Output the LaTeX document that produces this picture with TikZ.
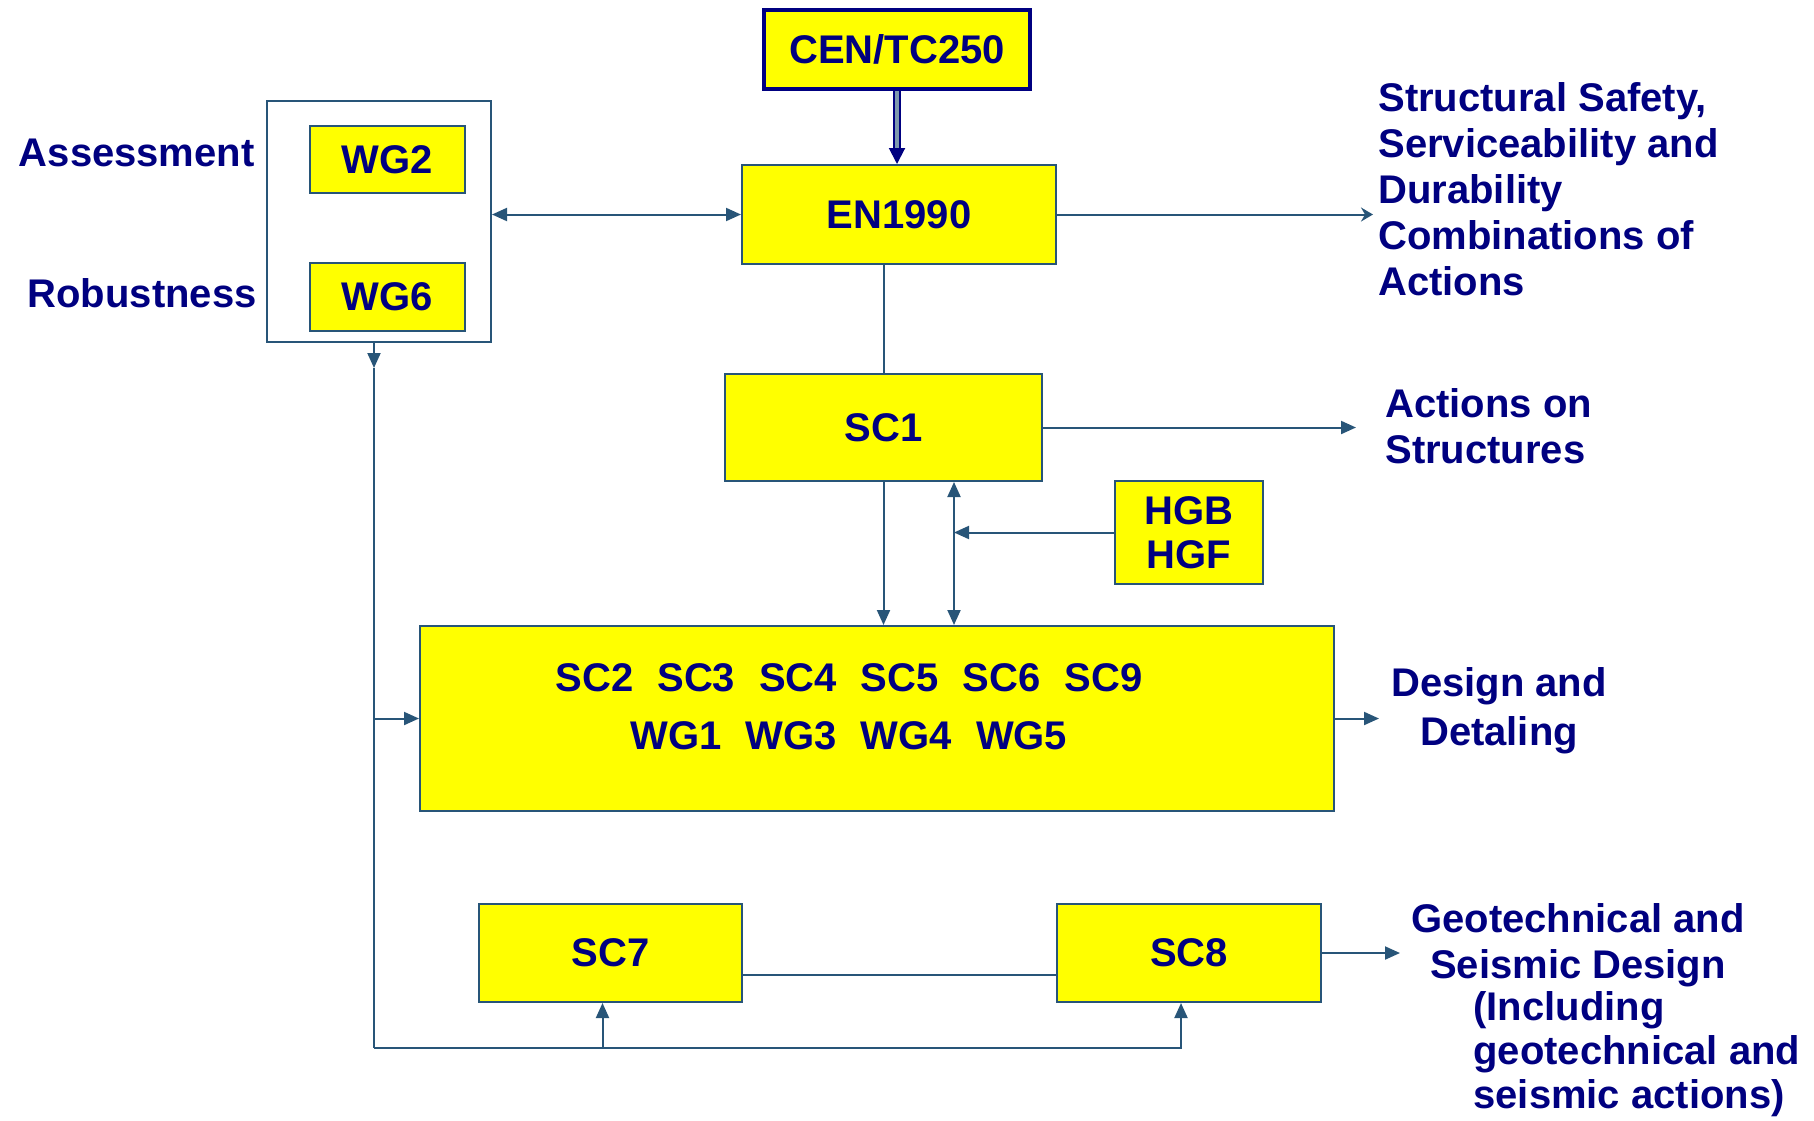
\documentclass[tikz,border=0pt]{standalone}
\usepackage{fontspec}
\setmainfont{Liberation Sans}
\usetikzlibrary{arrows.meta}
\definecolor{boxyellow}{RGB}{255,255,0}
\definecolor{textnavy}{RGB}{0,0,128}
\definecolor{linksteel}{RGB}{40,85,120}

\begin{document}
\begin{tikzpicture}[x=0.5pt, y=-0.5pt, >={Triangle[length=7.5pt,width=6.5pt]},
	lbl/.style={text=textnavy, inner sep=0pt, font=\bfseries\fontsize{20}{23}\selectfont},
	box/.style={lbl, draw=linksteel, fill=boxyellow, line width=1pt},
	conn/.style={draw=linksteel, line width=1pt}]
	\useasboundingbox (0,0) rectangle (1814,1120);
	\node[box, draw=textnavy, line width=1.8pt, minimum width=133pt, minimum height=39.5pt] (cen) at (897,49.5) {CEN/TC250};
	\node[box, minimum width=157pt, minimum height=49.5pt] (en) at (899,214.5) {EN1990};
	\node[box, fill=white, minimum width=112pt, minimum height=120.5pt] (grp) at (379,221.5) {};
	\node[box, minimum width=77.5pt, minimum height=33.5pt] (wg2) at (387.5,159.5) {WG2};
	\node[box, minimum width=77.5pt, minimum height=34pt] (wg6) at (387.5,297) {WG6};
	\node[box, minimum width=158.5pt, minimum height=53.5pt] (sc1) at (883.5,427.5) {SC1};
	\node[box, align=center, minimum width=74pt, minimum height=51.5pt, font=\bfseries\fontsize{20}{22}\selectfont] (hg) at (1189,532.5) {HGB\\HGF};
	\node[box, minimum width=457pt, minimum height=92.5pt] (big) at (877,718.5) {};
	\node[lbl, align=center, font=\bfseries\fontsize{20}{29}\selectfont] (bigtxt) at (849,707) {SC2\hspace{12pt}SC3\hspace{12pt}SC4\hspace{12pt}SC5\hspace{12pt}SC6\hspace{12pt}SC9\\WG1\hspace{12pt}WG3\hspace{12pt}WG4\hspace{12pt}WG5};
	\node[box, minimum width=131.5pt, minimum height=49pt] (sc7) at (610.5,953) {SC7};
	\node[box, minimum width=132pt, minimum height=49pt] (sc8) at (1189,953) {SC8};
	\node[lbl, anchor=east] (assess) at (255,153) {Assessment};
	\node[lbl, anchor=east] (robust) at (257,293) {Robustness};
	\node[lbl, anchor=west, align=left] (safety) at (1378,189.5) {Structural Safety,\\Serviceability and\\Durability\\Combinations of\\Actions};
	\node[lbl, anchor=west, align=left] (acts) at (1385,426.5) {Actions on\\Structures};
	\node[lbl, align=center] (design) at (1499,711) {Design and\\[1.5pt]Detaling};
	\node[lbl, align=center] (geo) at (1578,945.5) {Geotechnical and\\Seismic Design};
	\node[lbl, anchor=west, align=left, font=\bfseries\fontsize{20}{22}\selectfont] (incl) at (1473,1054) {(Including\\geotechnical and\\seismic actions)};
	\coordinate (enout) at (1373,214.5);
	\coordinate (sc1out) at (1356,427.5);
	\coordinate (hgin) at (954,532.5);
	\coordinate (bigout) at (1379,718.5);
	\coordinate (sc8out) at (1400,953);
	\coordinate (busA) at (374,368);
	\coordinate (busB) at (374,1048);
	\draw[draw=textnavy, line width=1pt, double=linksteel!60, double distance=2pt, -{Triangle[length=8pt,width=8pt]}] (cen.south) -- (cen.south |- en.north);
	\draw[conn, <->] (en.west -| grp.east) -- (en.west);
	\draw[conn, -{Stealth[length=6pt,width=7pt,inset=2pt]}] (en.east) -- (enout);
	\draw[conn] (sc1.north |- en.south) -- (sc1.north);
	\draw[conn, ->] (sc1.east) -- (sc1out);
	\draw[conn, ->] (sc1.south) -- (sc1.south |- big.north);
	\draw[conn, <->] (sc1.south -| hgin) -- (big.north -| hgin);
	\draw[conn, ->] (hg.west) -- (hgin);
	\draw[conn, ->] (big.east) -- (bigout);
	\draw[conn, ->] (sc8.east) -- (sc8out);
	\draw[conn] ([yshift=-11pt]sc7.east) -- ([yshift=-11pt]sc8.west);
	\draw[conn, ->] (grp.south -| busA) -- (busA);
	\draw[conn] (busA) -- (busB);
	\draw[conn, ->] (busB) -| ([xshift=-4pt]sc8.south);
	\draw[conn, ->] ([xshift=-4pt]sc7.south |- busB) -- ([xshift=-4pt]sc7.south);
	\draw[conn, ->] (busA |- big.west) -- (big.west);
\end{tikzpicture}
\end{document}
